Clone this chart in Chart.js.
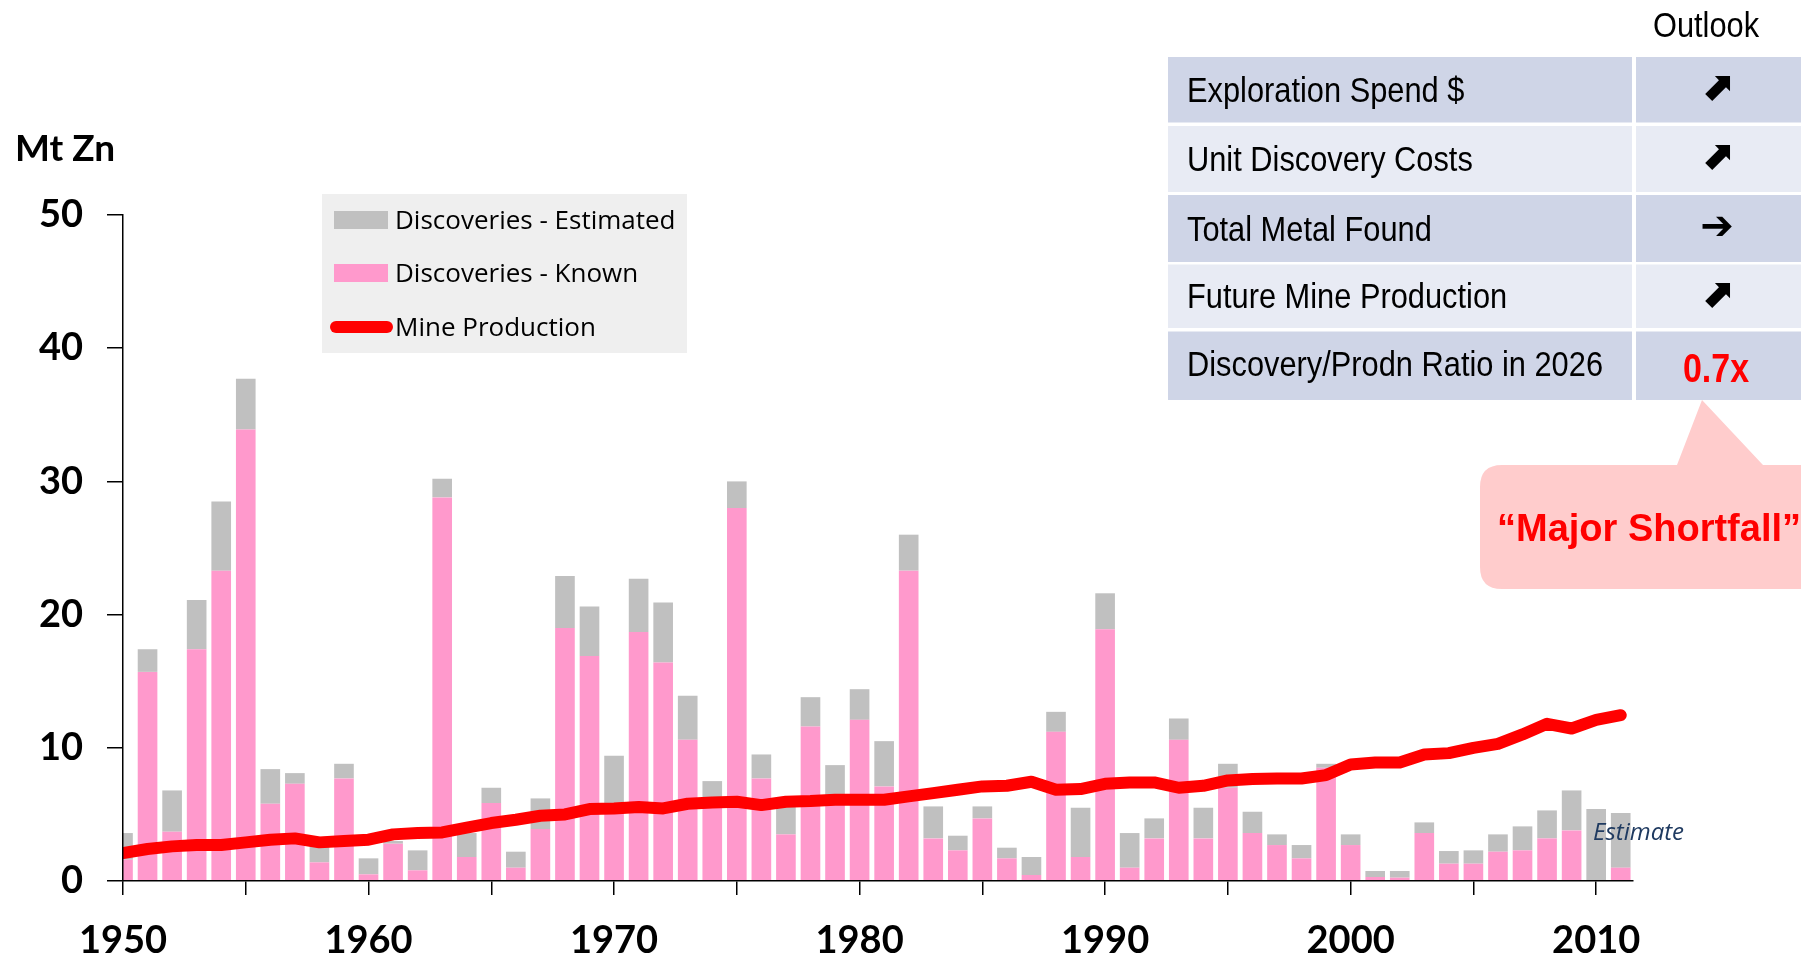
<!DOCTYPE html>
<html>
<head>
<meta charset="utf-8">
<title>Zinc discoveries vs mine production</title>
<script src="https://cdn.jsdelivr.net/npm/chart.js@4/dist/chart.umd.min.js"></script>
<style>
  html, body { margin: 0; padding: 0; background: #fff; }
  #chart { display: block; }
</style>
</head>
<body>
<canvas id="chart" width="1801" height="957"></canvas>
<script>
'use strict';

// Mt Zn per year
var years = [1950, 1951, 1952, 1953, 1954, 1955, 1956, 1957, 1958, 1959,
  1960, 1961, 1962, 1963, 1964, 1965, 1966, 1967, 1968, 1969,
  1970, 1971, 1972, 1973, 1974, 1975, 1976, 1977, 1978, 1979,
  1980, 1981, 1982, 1983, 1984, 1985, 1986, 1987, 1988, 1989,
  1990, 1991, 1992, 1993, 1994, 1995, 1996, 1997, 1998, 1999,
  2000, 2001, 2002, 2003, 2004, 2005, 2006, 2007, 2008, 2009,
  2010, 2011];

var discoveriesKnown = [1.6, 15.7, 3.7, 17.4, 23.3, 33.9, 5.8, 7.3, 1.4, 7.7,
  0.5, 2.8, 0.8, 28.8, 1.8, 5.85, 1.0, 3.9, 19.0, 16.9,
  5.5, 18.7, 16.4, 10.6, 5.5, 28.0, 7.7, 3.5, 11.6, 5.8,
  12.1, 7.1, 23.3, 3.2, 2.3, 4.7, 1.7, 0.45, 11.2, 1.8,
  18.9, 1.0, 3.2, 10.6, 3.2, 7.0, 3.6, 2.7, 1.7, 8.5,
  2.7, 0.3, 0.25, 3.6, 1.3, 1.3, 2.2, 2.3, 3.2, 3.8,
  0, 1.0];

var discoveriesEstimated = [2.0, 1.7, 3.1, 3.7, 5.2, 3.8, 2.6, 0.8, 1.6, 1.1,
  1.2, 0.2, 1.5, 1.4, 1.8, 1.15, 1.2, 2.3, 3.9, 3.7,
  3.9, 4.0, 4.5, 3.3, 2.0, 2.0, 1.8, 2.1, 2.2, 2.9,
  2.3, 3.4, 2.7, 2.4, 1.1, 0.9, 0.8, 1.35, 1.5, 3.7,
  2.7, 2.6, 1.5, 1.6, 2.3, 1.8, 1.6, 0.8, 1.0, 0.3,
  0.8, 0.45, 0.5, 0.8, 0.95, 1.0, 1.3, 1.8, 2.1, 3.0,
  5.4, 4.1];

var mineProduction = [2.1, 2.4, 2.6, 2.7, 2.7, 2.9, 3.1, 3.2, 2.9, 3.0,
  3.1, 3.5, 3.6, 3.65, 4.0, 4.35, 4.6, 4.9, 5.0, 5.4,
  5.45, 5.55, 5.45, 5.8, 5.9, 5.95, 5.7, 5.95, 6.0, 6.1,
  6.1, 6.1, 6.35, 6.6, 6.85, 7.1, 7.15, 7.45, 6.85, 6.9,
  7.3, 7.4, 7.4, 7.0, 7.15, 7.55, 7.65, 7.7, 7.7, 7.95,
  8.75, 8.9, 8.9, 9.5, 9.6, 10.0, 10.3, 11.0, 11.8, 11.45,
  12.1, 12.45];

var outlookLabels = ['Exploration Spend $', 'Unit Discovery Costs', 'Total Metal Found',
  'Future Mine Production', 'Discovery/Prodn Ratio in 2026'];
var outlookMarks = ['\u2B08', '\u2B08', '\u2794', '\u2B08', '0.7x'];

function points(vals) {
  return years.map(function(y, i) { return { x: y, y: vals[i] }; });
}

// narrow-ish Arial look: squeeze text horizontally
function squeezeText(ctx, text, x, y, sx, align) {
  ctx.save();
  ctx.translate(x, y);
  ctx.scale(sx, 1);
  ctx.textAlign = align;
  ctx.fillText(text, 0, 0);
  ctx.restore();
}

var extras = {
  id: 'extras',
  afterDraw: function(chart) {
    var ctx = chart.ctx;
    var ds = chart.data.datasets;
    ctx.save();
    ctx.textBaseline = 'alphabetic';

    // axis title
    ctx.fillStyle = '#000';
    ctx.font = 'bold 37px Lato';
    ctx.textAlign = 'left';
    ctx.fillText('Mt Zn', 15, 161);

    // legend
    ctx.fillStyle = '#EFEFEF';
    ctx.fillRect(322, 194, 365, 159);
    var legendOrder = [1, 0, 2];
    var rowBase = [229, 282, 336];
    ctx.font = '26px "Open Sans"';
    legendOrder.forEach(function(k, i) {
      var d = ds[k];
      var cy = rowBase[i] - 9;
      if (d.type === 'line') {
        ctx.strokeStyle = d.borderColor;
        ctx.lineWidth = 12;
        ctx.lineCap = 'round';
        ctx.beginPath();
        ctx.moveTo(336, cy);
        ctx.lineTo(387, cy);
        ctx.stroke();
      } else {
        ctx.fillStyle = d.backgroundColor;
        ctx.fillRect(334, cy - 9, 54, 18);
      }
      ctx.fillStyle = '#000';
      ctx.textAlign = 'left';
      ctx.fillText(d.label, 395, rowBase[i]);
    });

    // estimate note
    ctx.font = 'italic 24px "Open Sans"';
    ctx.fillStyle = '#1F3A60';
    ctx.fillText('Estimate', 1593, 840);

    // callout
    ctx.fillStyle = '#FFCCCC';
    var l = 1480, t = 465, b = 589, r = 22;
    ctx.beginPath();
    ctx.moveTo(l + r, t);
    ctx.lineTo(1677, t);
    ctx.lineTo(1702, 400);
    ctx.lineTo(1763, t);
    ctx.lineTo(1830, t);
    ctx.lineTo(1830, b);
    ctx.lineTo(l + r, b);
    ctx.quadraticCurveTo(l, b, l, b - r);
    ctx.lineTo(l, t + r);
    ctx.quadraticCurveTo(l, t, l + r, t);
    ctx.closePath();
    ctx.fill();
    ctx.fillStyle = '#FF0000';
    ctx.font = 'bold 38px "Liberation Sans"';
    ctx.textAlign = 'left';
    ctx.fillText('\u201CMajor Shortfall\u201D', 1497, 541);

    // outlook table
    var rowTops = [57, 126, 195, 264.5, 331.5];
    var rowBots = [122.5, 192, 262, 328, 400];
    ctx.fillStyle = '#000';
    ctx.font = '35px "Liberation Sans"';
    squeezeText(ctx, 'Outlook', 1706, 37, 0.88, 'center');
    outlookLabels.forEach(function(lbl, i) {
      var top = rowTops[i], h = rowBots[i] - top;
      var mid = top + h / 2;
      ctx.fillStyle = i % 2 === 0 ? '#CFD5E7' : '#E8EBF4';
      ctx.fillRect(1168, top, 464, h);
      ctx.fillRect(1636, top, 165, h);
      ctx.fillStyle = '#000';
      ctx.font = '35px "Liberation Sans"';
      squeezeText(ctx, lbl, 1187, mid + (i === 4 ? 10 : 12), 0.88, 'left');
      var mark = outlookMarks[i];
      if (mark.length > 1) {
        ctx.fillStyle = '#FF0000';
        ctx.font = 'bold 40px "Liberation Sans"';
        squeezeText(ctx, mark, 1716, 382, 0.85, 'center');
      } else {
        ctx.fillStyle = '#000';
        ctx.font = 'bold 40px "DejaVu Sans"';
        ctx.textAlign = 'center';
        ctx.textBaseline = 'middle';
        ctx.fillText(mark, 1717, mid);
        ctx.textBaseline = 'alphabetic';
      }
    });
    ctx.restore();
  }
};

var ctx = document.getElementById('chart').getContext('2d');

var tickFont = { family: 'Lato', size: 38, weight: 'bold' };

var myChart = new Chart(ctx, {
  type: 'bar',
  data: {
    datasets: [{
      label: 'Discoveries - Known',
      data: points(discoveriesKnown),
      backgroundColor: '#FF99CC',
      stack: 'disc',
      order: 1,
      clip: 0,
      barPercentage: 0.8,
      categoryPercentage: 1
    }, {
      label: 'Discoveries - Estimated',
      data: points(discoveriesEstimated),
      backgroundColor: '#C0C0C0',
      stack: 'disc',
      order: 1,
      clip: 0,
      barPercentage: 0.8,
      categoryPercentage: 1
    }, {
      type: 'line',
      label: 'Mine Production',
      data: points(mineProduction),
      borderColor: '#FF0000',
      backgroundColor: '#FF0000',
      borderWidth: 12,
      borderCapStyle: 'round',
      borderJoinStyle: 'round',
      pointRadius: 0,
      tension: 0,
      fill: false,
      stack: 'prod',
      order: 0,
      clip: { left: 0, top: false, right: false, bottom: false }
    }]
  },
  options: {
    responsive: false,
    animation: false,
    devicePixelRatio: 1,
    layout: { padding: { left: 0, right: 168, top: 215, bottom: 0 } },
    plugins: {
      legend: { display: false },
      tooltip: { enabled: false }
    },
    scales: {
      x: {
        type: 'linear',
        min: 1950,
        max: 2011.5,
        stacked: true,
        offset: false,
        grid: { drawOnChartArea: false, offset: false, tickLength: 14, color: '#000', lineWidth: 1.5, z: 1 },
        border: { color: '#000', width: 1.5, z: 1 },
        ticks: {
          stepSize: 5,
          includeBounds: false,
          autoSkip: false,
          maxRotation: 0,
          padding: 23,
          color: '#000',
          font: tickFont,
          callback: function(v) { return v % 10 === 0 ? String(v) : ''; }
        },
        afterFit: function(s) { s.height = 76; }
      },
      y: {
        min: 0,
        max: 50,
        stacked: true,
        grid: { drawOnChartArea: false, tickLength: 16, color: '#000', lineWidth: 1.5, z: 1 },
        border: { color: '#000', width: 1.5, z: 1 },
        ticks: { stepSize: 10, padding: 24, color: '#000', font: tickFont },
        afterFit: function(s) { s.width = 123; }
      }
    }
  },
  plugins: [extras]
});
</script>
</body>
</html>
